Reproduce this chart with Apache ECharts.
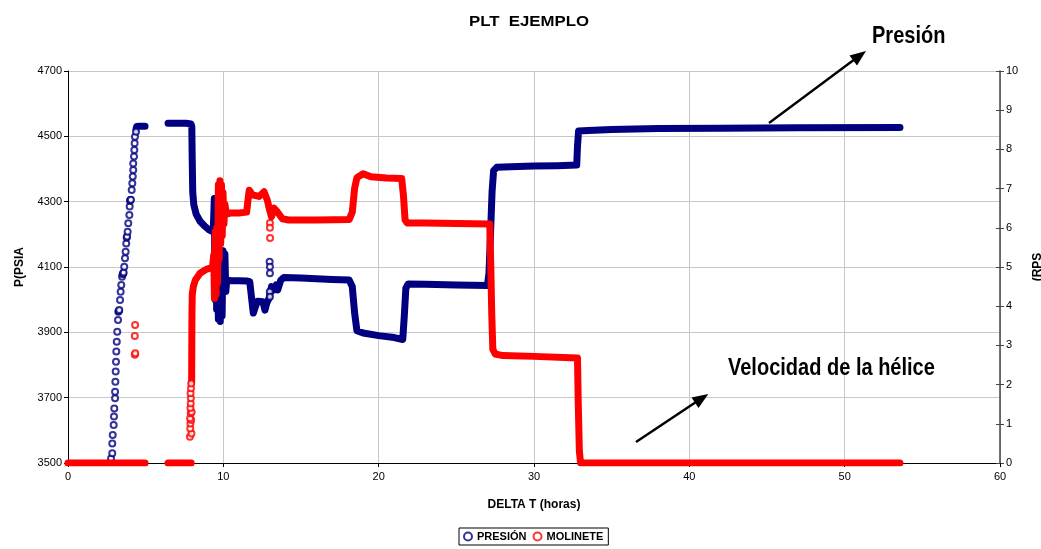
<!DOCTYPE html>
<html>
<head>
<meta charset="utf-8">
<script src="https://cdn.jsdelivr.net/npm/echarts@6/dist/echarts.min.js"></script>
<style>
html,body{margin:0;padding:0;background:#fff;}
#chart{width:1041px;height:549px;}
</style>
</head>
<body>
<div id="chart"></div>
<script>
// ---- Data ----
var xTicks = [0, 10, 20, 30, 40, 50, 60];
var presionTicks = [3500, 3700, 3900, 4100, 4300, 4500, 4700];
var rpsTicks = [0, 1, 2, 3, 4, 5, 6, 7, 8, 9, 10];

// PRESIÓN (psia) vs DELTA T (horas)
var presionSparseRise = [
  [2.77,3514],[2.85,3530],[2.85,3560],[2.88,3586],[2.94,3616],[2.96,3642],[2.98,3667],
  [3.03,3698],[3.03,3718],[3.05,3749],[3.07,3780],[3.09,3810],[3.11,3841],[3.14,3871],
  [3.17,3902],[3.22,3938],[3.24,3963],[3.27,3965],[3.30,3968],[3.35,3999],[3.39,4024],
  [3.43,4045],[3.48,4070],[3.52,4078],[3.56,4081],[3.58,4083],[3.62,4101],[3.67,4127],
  [3.71,4147],[3.75,4172],[3.78,4190],[3.80,4193],[3.84,4208],[3.88,4234],[3.95,4259],
  [3.97,4285],[3.99,4303],[4.02,4305],[4.05,4306],[4.10,4336],[4.14,4356],[4.17,4377],
  [4.20,4397],[4.20,4417],[4.25,4438],[4.27,4458],[4.29,4479],[4.31,4499],[4.38,4514]
];
var presionSparseMid = [[12.98,4116],[13.0,4101],[13.0,4081],[12.99,4024],[13.0,4009]];
var presionSeg1 = [[4.38,4522],[4.42,4530],[4.6,4531],[4.96,4531]];
var presionSeg2 = [
  [6.44,4540],[7.0,4540],[7.6,4540],[7.92,4538],[7.97,4530],[8.0,4420],[8.03,4330],
  [8.1,4290],[8.25,4262],[8.5,4240],[8.8,4225],[9.1,4213],[9.35,4208],
  [9.42,4310],[9.47,4000],[9.52,4280],[9.57,3970],[9.62,4200],[9.68,3940],[9.74,4150],
  [9.8,3933],[9.86,4140],[9.92,3950],[9.98,4150],[10.04,4030],[10.1,4140],[10.16,4025],
  [10.22,4060],[10.5,4058],[11.0,4058],[11.5,4057],[11.7,4055],[11.83,4000],[11.93,3959],
  [12.04,3975],[12.2,3995],[12.55,3994],[12.68,3968],[12.8,3990],[12.95,4005],[13.1,4040],
  [13.25,4030],[13.4,4045],[13.5,4030],[13.7,4060],[13.9,4068],[15,4066],[16,4064],
  [17,4062],[18.1,4060],[18.3,4040],[18.45,3960],[18.6,3905],[19,3898],[20,3890],
  [21,3884],[21.55,3878],[21.65,3950],[21.75,4035],[21.9,4048],[23,4047],[25,4045],
  [27.0,4043],[27.1,4080],[27.2,4200],[27.3,4330],[27.4,4395],[27.6,4405],[28.5,4407],
  [30,4409],[31.5,4410],[32.75,4412],[32.8,4470],[32.87,4516],[33.5,4518],[35,4521],
  [38,4524],[42,4525],[47,4526],[53.56,4527]
];

// MOLINETE (RPS) vs DELTA T (horas)
var rpsSparse1 = [[4.32,3.52],[4.30,3.24],[4.30,2.76],[4.33,2.80]];
var rpsSparse2 = [
  [7.85,0.67],[7.95,0.75],[7.87,0.88],[7.88,1.01],[7.93,1.10],[7.86,1.14],[7.90,1.27],
  [7.96,1.30],[7.88,1.40],[7.90,1.52],[7.91,1.65],[7.89,1.78],[7.92,1.91],[7.93,2.03]
];
var rpsSparse3 = [[13.0,6.12],[13.0,6.0],[13.01,5.74]];
var rpsSeg1 = [[0,0],[4.96,0]];
var rpsSeg2 = [[6.44,0],[7.93,0]];
var rpsSeg3 = [
  [7.96,2.05],[7.97,3.0],[7.98,3.8],[8.0,4.3],[8.07,4.5],[8.2,4.67],[8.5,4.84],[8.9,4.94],
  [9.3,4.99],[9.38,5.3],[9.43,4.2],[9.48,5.9],[9.53,4.3],[9.58,6.0],[9.63,4.6],[9.68,7.1],
  [9.73,5.2],[9.78,7.2],[9.83,5.6],[9.88,7.1],[9.93,5.8],[9.98,6.9],[10.04,6.1],[10.1,6.6],
  [10.2,6.35],[10.5,6.38],[11.0,6.38],[11.5,6.4],[11.63,6.85],[11.67,6.96],[11.88,6.84],
  [12.3,6.8],[12.62,6.92],[12.83,6.71],[12.98,6.45],[13.1,6.28],[13.26,6.5],[13.47,6.41],
  [13.8,6.23],[14.2,6.2],[16,6.2],[18.1,6.21],[18.3,6.4],[18.45,7.0],[18.6,7.28],[19.0,7.38],
  [19.5,7.3],[20.5,7.27],[21.48,7.26],[21.6,6.8],[21.7,6.2],[21.85,6.12],[23,6.12],[25,6.11],
  [27.15,6.1],[27.22,5.0],[27.28,3.8],[27.35,2.9],[27.5,2.78],[28,2.74],[30,2.72],[32.8,2.68],
  [32.85,1.5],[32.92,0.3],[33.0,0],[40,0],[53.56,0]
];

var BLUE = '#000080', RED = '#ff0000';
var FONT = '"Liberation Sans", Arial, sans-serif';

var chart = echarts.init(document.getElementById('chart'), null, {renderer:'canvas'});

function scatterS(name, data, color, yIdx, z){
  return {name:name, type:'scatter', data:data, yAxisIndex:yIdx, z:z,
    symbol:'emptyCircle', symbolSize:6,
    itemStyle:{color:color, borderColor:color, borderWidth:1.2},
    emphasis:{disabled:true}, animation:false};
}
function lineS(name, data, color, yIdx, z){
  return {name:name, type:'line', data:data, yAxisIndex:yIdx, z:z,
    showSymbol:false, symbol:'emptyCircle', smooth:false,
    lineStyle:{color:color, width:7, cap:'round', join:'round'},
    itemStyle:{color:color},
    emphasis:{disabled:true}, animation:false};
}
function plain(v){ return String(v); }

var option = {
  animation:false,
  backgroundColor:'#fff',
  grid:{left:68, right:41, top:71, bottom:86, containLabel:false, outerBoundsMode:'none'},
  xAxis:{
    type:'value', min:xTicks[0], max:xTicks[xTicks.length-1], interval:10,
    name:'DELTA T (horas)', nameLocation:'middle', nameGap:36,
    nameTextStyle:{fontFamily:FONT, fontWeight:'bold', fontSize:12, color:'#000'},
    axisLine:{lineStyle:{color:'#000', width:1}},
    axisTick:{length:4, lineStyle:{color:'#000'}},
    axisLabel:{fontFamily:FONT, fontSize:11, color:'#000', margin:8, formatter:plain},
    splitLine:{show:true, lineStyle:{color:'#c8c8c8', width:1}}
  },
  yAxis:[{
    type:'value', min:presionTicks[0], max:presionTicks[presionTicks.length-1], interval:200,
    position:'left',
    name:'P(PSIA', nameLocation:'middle', nameRotate:90, nameGap:42,
    nameTextStyle:{fontFamily:FONT, fontWeight:'bold', fontSize:12, color:'#000'},
    axisLine:{show:true, lineStyle:{color:'#000', width:1}},
    axisTick:{show:true, length:4, lineStyle:{color:'#000'}},
    axisLabel:{fontFamily:FONT, fontSize:11, color:'#000', margin:6, formatter:plain},
    splitLine:{show:true, lineStyle:{color:'#c8c8c8', width:1}}
  },{
    type:'value', min:rpsTicks[0], max:rpsTicks[rpsTicks.length-1], interval:1,
    position:'right',
    name:'(RPS', nameLocation:'middle', nameRotate:90, nameGap:32,
    nameTextStyle:{fontFamily:FONT, fontWeight:'bold', fontSize:12, color:'#000'},
    axisLine:{show:true, lineStyle:{color:'#444', width:1.5}},
    axisTick:{show:true, length:4, lineStyle:{color:'#444'}},
    axisLabel:{fontFamily:FONT, fontSize:11, color:'#000', margin:6, formatter:plain},
    splitLine:{show:false}
  },{
    // inner half of the crossing ticks on the right axis
    type:'value', min:rpsTicks[0], max:rpsTicks[rpsTicks.length-1], interval:1,
    position:'right',
    axisLine:{show:false},
    axisTick:{show:true, inside:true, length:4, lineStyle:{color:'#444'}},
    axisLabel:{show:false},
    splitLine:{show:false}
  }],
  legend:{
    left:459, top:528, orient:'horizontal',
    data:[{name:'PRESIÓN', icon:'emptyCircle'},{name:'MOLINETE', icon:'emptyCircle'}],
    itemWidth:8, itemHeight:8, itemGap:6,
    padding:[3,5,3,4],
    borderColor:'#000', borderWidth:1,
    itemStyle:{borderWidth:1.5},
    textStyle:{fontFamily:FONT, fontWeight:'bold', fontSize:11, color:'#000'},
    selectedMode:false
  },
  series:[
    scatterS('PRESIÓN', presionSparseRise, BLUE, 0, 2),
    scatterS('MOLINETE', rpsSparse1, RED, 1, 3),
    scatterS('PRESIÓN', presionSparseMid, BLUE, 0, 2),
    lineS('PRESIÓN', presionSeg1, BLUE, 0, 2),
    lineS('PRESIÓN', presionSeg2, BLUE, 0, 2),
    scatterS('MOLINETE', rpsSparse2, RED, 1, 3),
    scatterS('MOLINETE', rpsSparse3, RED, 1, 3),
    lineS('MOLINETE', rpsSeg1, RED, 1, 3),
    lineS('MOLINETE', rpsSeg2, RED, 1, 3),
    lineS('MOLINETE', rpsSeg3, RED, 1, 3)
  ],
  graphic:[
    {type:'text', x:529, y:22, scaleX:1.2, z:10,
     style:{text:'PLT  EJEMPLO', font:'bold 14px '+FONT, fill:'#000', align:'center', verticalAlign:'middle'}},
    {type:'text', x:872, y:37, scaleX:0.87, z:10,
     style:{text:'Presión', font:'bold 23px '+FONT, fill:'#000', align:'left', verticalAlign:'middle'}},
    {type:'text', x:728, y:369, scaleX:0.87, z:10,
     style:{text:'Velocidad de la hélice', font:'bold 23px '+FONT, fill:'#000', align:'left', verticalAlign:'middle'}},
    {type:'line', z:10, shape:{x1:769, y1:123, x2:855, y2:59}, style:{stroke:'#000', lineWidth:2.4}},
    {type:'polygon', z:10, shape:{points:[[866,51],[857,65.5],[849.5,55.5]]}, style:{fill:'#000'}},
    {type:'line', z:10, shape:{x1:636, y1:442, x2:696, y2:402}, style:{stroke:'#000', lineWidth:2.4}},
    {type:'polygon', z:10, shape:{points:[[708.3,394],[698.5,408],[691.5,397.5]]}, style:{fill:'#000'}}
  ]
};
chart.setOption(option);
</script>
</body>
</html>
